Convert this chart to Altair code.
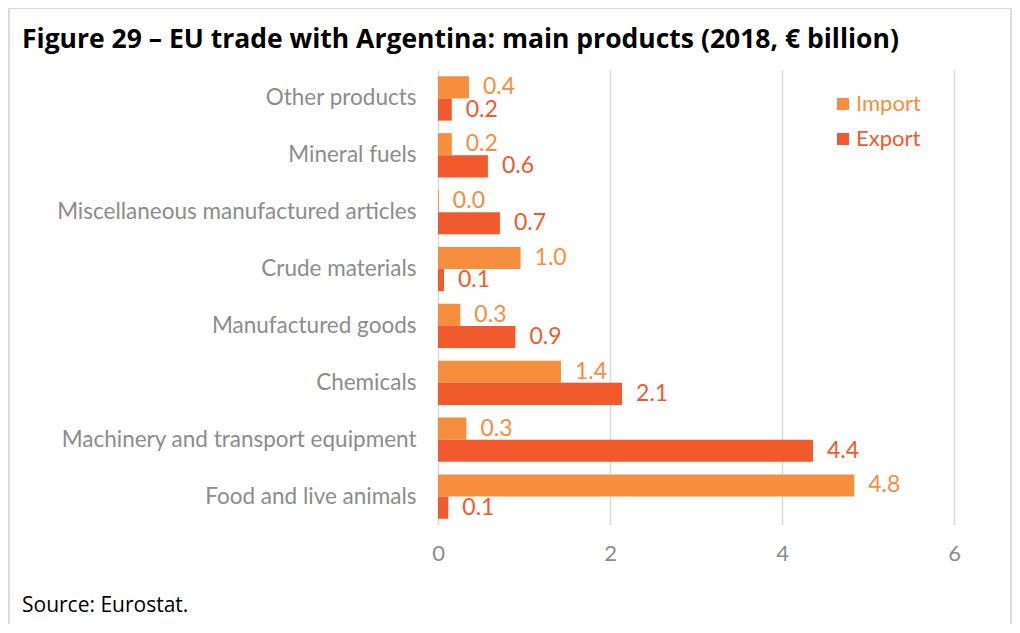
import altair as alt
import pandas as pd

categories = ["Other products", "Mineral fuels", "Miscellaneous manufactured articles",
              "Crude materials", "Manufactured goods", "Chemicals",
              "Machinery and transport equipment", "Food and live animals"]
imports = [0.36, 0.16, 0.01, 0.96, 0.26, 1.43, 0.33, 4.84]
exports = [0.16, 0.58, 0.72, 0.07, 0.90, 2.14, 4.36, 0.12]
series = ["Import", "Export"]
colors = ["#F58E3D", "#F05A2C"]
x_ticks = [0, 2, 4, 6]
title_text = "Figure 29 \u2013 EU trade with Argentina: main products (2018, \u20ac billion)"
source_text = "Source: Eurostat."

rows = []
for c, i, e in zip(categories, imports, exports):
    rows.append({"category": c, "series": "Import", "value": i})
    rows.append({"category": c, "series": "Export", "value": e})
df = pd.DataFrame(rows)

FONT = "Lato"
GREY = "#8c8c8c"

y_enc = alt.Y("category:N", sort=categories,
              scale=alt.Scale(paddingInner=0.22, paddingOuter=0.11),
              axis=alt.Axis(title=None, labelFont=FONT, labelFontSize=22.5, labelColor=GREY,
                            ticks=False, domain=False, labelPadding=22, labelLimit=500))
yoff = alt.YOffset("series:N", sort=series)
x_enc = alt.X("value:Q", scale=alt.Scale(domain=[0, 6]),
              axis=alt.Axis(values=x_ticks, format="d", title=None, grid=True,
                            gridColor="#d9d9d9", gridWidth=1.5, domain=False, ticks=False,
                            labelFont=FONT, labelFontSize=22, labelColor=GREY,
                            labelPadding=18, labelFlush=False))
col = alt.Color("series:N", scale=alt.Scale(domain=series, range=colors), legend=None)

base = alt.Chart(df)
bars = base.mark_bar().encode(y=y_enc, yOffset=yoff, x=x_enc, color=col)
labels = base.mark_text(align="left", baseline="middle", dx=14, font=FONT, fontSize=23).encode(
    y=alt.Y("category:N", sort=categories), yOffset=yoff, x="value:Q",
    text=alt.Text("value:Q", format=".1f"), color=col)

one = pd.DataFrame({"a": [0]})
layers = [bars, labels]
legend_y = [34, 69]
for s, c, ly in zip(series, colors, legend_y):
    layers.append(alt.Chart(one).mark_square(size=144, color=c, opacity=1).encode(
        x=alt.value(405), y=alt.value(ly)))
    layers.append(alt.Chart(one).mark_text(align="left", baseline="middle", font=FONT,
                                           fontSize=22, color=c, text=s).encode(
        x=alt.value(418), y=alt.value(ly)))

layers.append(alt.Chart(one).mark_text(align="left", baseline="alphabetic", font="Open Sans",
                                       fontWeight="bold", fontSize=26.5, color="#000000",
                                       text=title_text).encode(
    x=alt.value(-416), y=alt.value(-22)))
layers.append(alt.Chart(one).mark_text(align="left", baseline="alphabetic", font="Open Sans",
                                       fontSize=21, color="#000000", text=source_text).encode(
    x=alt.value(-416), y=alt.value(542)))

frame_col = "#dcdcdc"
layers.append(alt.Chart(one).mark_rule(color=frame_col, strokeWidth=2).encode(
    x=alt.value(-429), x2=alt.value(573), y=alt.value(-62)))
layers.append(alt.Chart(one).mark_rule(color=frame_col, strokeWidth=2).encode(
    x=alt.value(-429), y=alt.value(-62), y2=alt.value(560)))
layers.append(alt.Chart(one).mark_rule(color=frame_col, strokeWidth=2).encode(
    x=alt.value(573), y=alt.value(-62), y2=alt.value(560)))

chart = alt.layer(*layers).properties(
    width=516, height=455,
    padding={"left": 430, "top": 62, "right": 58, "bottom": 99},
    autosize=alt.AutoSizeParams(type="none"),
    background="white",
).configure_view(strokeWidth=0, stroke="transparent")

chart.save("out.html", embed_options={"renderer": "svg", "actions": False})
